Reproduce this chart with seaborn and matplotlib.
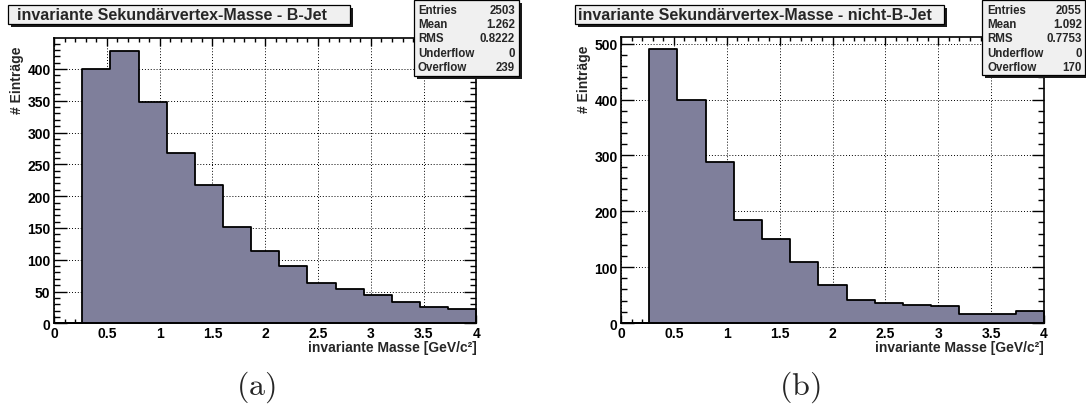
import numpy as np
import pandas as pd
import matplotlib
matplotlib.use("Agg")
import matplotlib.pyplot as plt
import seaborn as sns
from matplotlib.patches import Rectangle
from matplotlib.ticker import MultipleLocator

# ---- histogram contents (15 bins from 0 to 4 GeV/c^2) ----
bin_edges = list(np.linspace(0.0, 4.0, 16))
counts_bjet = [0, 400, 429, 348, 268, 217, 151, 113, 90, 63, 54, 44, 34, 26, 23]
counts_nonb = [0, 490, 400, 289, 185, 151, 109, 68, 41, 36, 32, 30, 17, 17, 21]

titles = ["invariante Sekundärvertex-Masse - B-Jet",
          "invariante Sekundärvertex-Masse - nicht-B-Jet"]
stat_names = ["Entries", "Mean", "RMS", "Underflow", "Overflow"]
stats_bjet = ["2503", "1.262", "0.8222", "0", "239"]
stats_nonb = ["2055", "1.092", "0.7753", "0", "170"]
captions = ["(a)", "(b)"]
x_label = "invariante Masse [GeV/c²]"
y_label = "# Einträge"

sns.set_style("ticks")
plt.rcParams["font.family"] = ["Liberation Sans", "DejaVu Sans"]
plt.rcParams["font.weight"] = "bold"
plt.rcParams["axes.labelweight"] = "bold"

W, H = 1086, 414
fig = plt.figure(figsize=(W / 100, H / 100), dpi=100)
fig.patch.set_facecolor("white")


def fx(x):
    return x / W


def fy(y):
    return 1 - y / H


def box(x0, y0, x1, y1, face="#f0f0f0", shadow=3):
    fig.add_artist(Rectangle((fx(x0 + shadow), fy(y1 + shadow)), fx(x1 - x0), (y1 - y0) / H,
                             transform=fig.transFigure, facecolor="#1a1a1a",
                             edgecolor="none", zorder=5))
    fig.add_artist(Rectangle((fx(x0), fy(y1)), fx(x1 - x0), (y1 - y0) / H,
                             transform=fig.transFigure, facecolor=face,
                             edgecolor="black", linewidth=0.9, zorder=6))


panels = [
    dict(counts=counts_bjet, stats=stats_bjet, title=titles[0], cap=captions[0],
         ax=(54, 476.5, 39, 324.3), ymajor=50, yminor=10,
         tbox=(8, 6, 350, 25), tcx=172, sbox=(414, 1, 519, 77), sl=418, sr=515,
         capx=256),
    dict(counts=counts_nonb, stats=stats_nonb, title=titles[1], cap=captions[1],
         ax=(621, 1044, 37.7, 324), ymajor=100, yminor=20,
         tbox=(575, 6, 944, 25), tcx=755, sbox=(982, 1, 1085, 76), sl=987, sr=1082,
         capx=800),
]

fill_color = "#7f7f9b"

for p in panels:
    x0, x1, top, bot = p["ax"]
    ax = fig.add_axes([fx(x0), fy(bot), fx(x1 - x0), (bot - top) / H])
    centers = [0.5 * (a + b) for a, b in zip(bin_edges[:-1], bin_edges[1:])]
    df = pd.DataFrame({"mass": centers, "n": p["counts"]})
    sns.histplot(data=df, x="mass", weights="n", bins=bin_edges, element="step",
                 fill=True, color=fill_color, alpha=1.0, edgecolor="black",
                 linewidth=1.3, ax=ax)
    ax.set_xlim(0, 4)
    ax.set_ylim(0, max(p["counts"]) * 1.046)
    ax.set_axisbelow(True)
    ax.grid(True, which="major", color="black", linestyle=(0, (1, 2)), linewidth=0.7)

    ax.xaxis.set_major_locator(MultipleLocator(0.5))
    ax.xaxis.set_minor_locator(MultipleLocator(0.1))
    ax.yaxis.set_major_locator(MultipleLocator(p["ymajor"]))
    ax.yaxis.set_minor_locator(MultipleLocator(p["yminor"]))
    ax.xaxis.set_major_formatter(plt.FuncFormatter(lambda v, _: f"{v:g}"))

    ax.tick_params(axis="both", which="both", direction="in", top=True, right=True,
                   color="black", width=1.0, labelsize=10, labelcolor="black")
    ax.tick_params(axis="x", which="major", length=6, pad=2)
    ax.tick_params(axis="x", which="minor", length=3)
    ax.tick_params(axis="y", which="major", length=9, pad=2.5)
    ax.tick_params(axis="y", which="minor", length=4.5)
    for lab in ax.get_xticklabels() + ax.get_yticklabels():
        lab.set_fontweight("bold")
    for s in ax.spines.values():
        s.set_visible(True)
        s.set_color("black")
        s.set_linewidth(1.2)

    ax.set_xlabel(x_label, loc="right", fontsize=10, fontweight="bold")
    ax.set_ylabel(y_label, loc="top", fontsize=10, fontweight="bold")
    ax.xaxis.set_label_coords(1.0, -17 / (bot - top))
    ax.yaxis.set_label_coords(-30 / (x1 - x0), 1 - 8 / (bot - top))

    # title box
    bx0, by0, bx1, by1 = p["tbox"]
    box(bx0, by0, bx1, by1)
    fig.text(fx(p["tcx"]), fy((by0 + by1) / 2), p["title"], ha="center", va="center",
             fontsize=11.5, fontweight="bold", zorder=7)

    # statistics box
    sx0, sy0, sx1, sy1 = p["sbox"]
    box(sx0, sy0, sx1, sy1)
    row_y = [10.7, 25, 39.3, 54, 68.3]
    for name, val, ry in zip(stat_names, p["stats"], row_y):
        fig.text(fx(p["sl"]), fy(ry), name, ha="left", va="center",
                 fontsize=8.3, fontweight="bold", zorder=7)
        fig.text(fx(p["sr"]), fy(ry), val, ha="right", va="center",
                 fontsize=8.3, fontweight="bold", zorder=7)

    # sub-figure caption
    fig.text(fx(p["capx"]), fy(387), r"$\mathrm{" + p["cap"] + "}$", ha="center",
             va="center", fontsize=23, math_fontfamily="cm")

fig.savefig("out.png", dpi=100)
